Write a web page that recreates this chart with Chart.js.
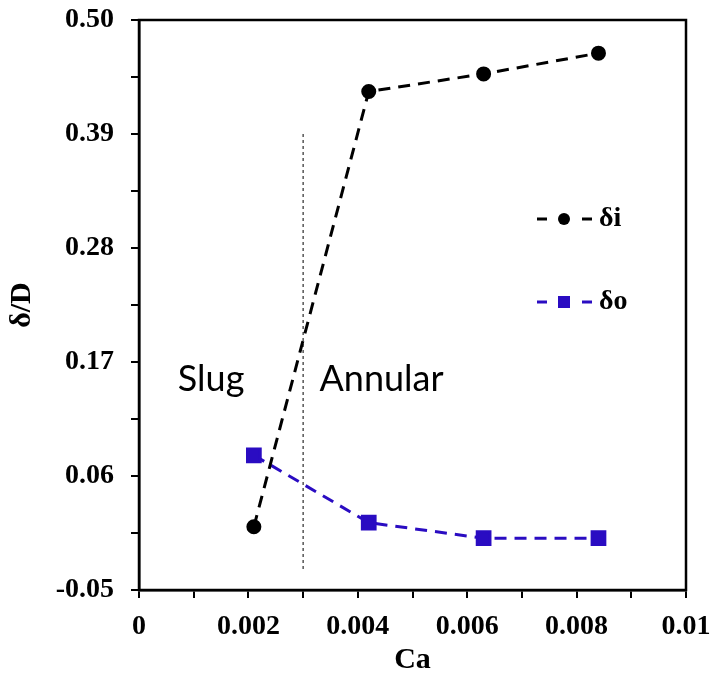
<!DOCTYPE html>
<html>
<head>
<meta charset="utf-8">
<script src="https://cdn.jsdelivr.net/npm/chart.js@4"></script>
<style>
  html, body { margin: 0; padding: 0; background: #fff; }
  #wrap { width: 713px; height: 682px; }
</style>
</head>
<body>
<div id="wrap"><canvas id="c" width="713" height="682"></canvas></div>
<script>
// Capillary number and film thickness ratios
const caValues = [0.0021, 0.0042, 0.0063, 0.0084];
const deltaInner = [0.011, 0.431, 0.448, 0.468];
const deltaOuter = [0.080, 0.015, 0.000, 0.000];

// Slug / annular regime boundary
const boundaryCa = [0.003, 0.003];
const boundaryY = [0.39, -0.03];

// Axis ticks (major ones carry labels)
const xTicks = [0, 0.001, 0.002, 0.003, 0.004, 0.005, 0.006, 0.007, 0.008, 0.009, 0.01];
const xLabels = ['0', '', '0.002', '', '0.004', '', '0.006', '', '0.008', '', '0.01'];
const yTicks = [-0.05, 0.005, 0.06, 0.115, 0.17, 0.225, 0.28, 0.335, 0.39, 0.445, 0.50];
const yLabels = ['-0.05', '', '0.06', '', '0.17', '', '0.28', '', '0.39', '', '0.50'];

const seriesNames = ['δi', 'δo'];
const regimeNames = ['Slug', 'Annular'];

const BLACK = '#000000';
const BLUE = '#2a0cc2';
const serif = '"Liberation Serif", "Times New Roman", serif';

const toPoints = (xs, ys) => xs.map((x, i) => ({ x: x, y: ys[i] }));

// Frame, regime labels and legend
const decor = {
  id: 'decor',
  afterDatasetsDraw(chart) {
    const { ctx, chartArea: a, scales } = chart;
    ctx.save();
    ctx.strokeStyle = BLACK;
    ctx.lineWidth = 2.5;
    ctx.strokeRect(a.left, a.top, a.right - a.left, a.bottom - a.top);

    // regime labels
    ctx.fillStyle = BLACK;
    ctx.font = '36px Lato, "Open Sans", sans-serif';
    ctx.textBaseline = 'middle';
    ctx.textAlign = 'left';
    ctx.fillText(regimeNames[0], scales.x.getPixelForValue(0.00071), scales.y.getPixelForValue(0.153));
    ctx.fillText(regimeNames[1], scales.x.getPixelForValue(0.00330), scales.y.getPixelForValue(0.153));

    // legend
    const entries = [
      { name: seriesNames[0], color: BLACK, style: 'circle', y: 219 },
      { name: seriesNames[1], color: BLUE, style: 'rect', y: 302 }
    ];
    entries.forEach(e => {
      ctx.strokeStyle = e.color;
      ctx.fillStyle = e.color;
      ctx.lineWidth = 3;
      ctx.beginPath();
      ctx.moveTo(537, e.y); ctx.lineTo(547, e.y);
      ctx.moveTo(582, e.y); ctx.lineTo(592, e.y);
      ctx.stroke();
      ctx.beginPath();
      if (e.style === 'circle') {
        ctx.arc(564, e.y, 6, 0, Math.PI * 2);
      } else {
        ctx.rect(558, e.y - 6, 12, 12);
      }
      ctx.fill();
      ctx.fillStyle = BLACK;
      ctx.font = 'bold 28px ' + serif;
      ctx.textAlign = 'left';
      ctx.textBaseline = 'middle';
      ctx.fillText(e.name, 599, e.y);
    });
    ctx.restore();
  }
};

new Chart(document.getElementById('c'), {
  type: 'line',
  data: {
    datasets: [
      {
        label: seriesNames[0],
        data: toPoints(caValues, deltaInner),
        borderColor: BLACK,
        backgroundColor: BLACK,
        borderWidth: 3,
        borderDash: [12, 8],
        pointStyle: 'circle',
        pointRadius: 6,
        pointHoverRadius: 6,
        tension: 0
      },
      {
        label: seriesNames[1],
        data: toPoints(caValues, deltaOuter),
        borderColor: BLUE,
        backgroundColor: BLUE,
        borderWidth: 3,
        borderDash: [12, 8],
        pointStyle: 'rect',
        pointRadius: 9,
        pointHoverRadius: 9,
        tension: 0
      },
      {
        label: 'boundary',
        data: toPoints(boundaryCa, boundaryY),
        borderColor: BLACK,
        borderWidth: 1,
        borderDash: [3, 3],
        pointRadius: 0,
        tension: 0
      }
    ]
  },
  options: {
    responsive: false,
    animation: false,
    layout: { padding: { top: 20, right: 27, left: 0, bottom: 0 } },
    plugins: { legend: { display: false }, tooltip: { enabled: false } },
    scales: {
      x: {
        type: 'linear',
        min: 0, max: 0.01,
        afterBuildTicks: s => { s.ticks = xTicks.map(v => ({ value: v })); },
        afterFit: s => { s.height = 92; s.paddingLeft = 0; s.paddingRight = 0; },
        ticks: {
          autoSkip: false,
          maxRotation: 0,
          padding: 12,
          color: BLACK,
          font: { family: serif, size: 28, weight: 'bold' },
          callback: (v, i) => xLabels[i]
        },
        grid: { drawOnChartArea: false, color: BLACK, lineWidth: 2, tickLength: 8 },
        border: { display: true, color: BLACK, width: 2.5 },
        title: {
          display: true, text: 'Ca', color: BLACK,
          font: { family: serif, size: 30, weight: 'bold' },
          padding: { top: 4, bottom: 4 }
        }
      },
      y: {
        type: 'linear',
        min: -0.05, max: 0.50,
        afterBuildTicks: s => { s.ticks = yTicks.map(v => ({ value: v })); },
        afterFit: s => { s.width = 139; s.paddingTop = 0; s.paddingBottom = 0; },
        ticks: {
          autoSkip: false,
          padding: 17,
          color: BLACK,
          font: { family: serif, size: 28, weight: 'bold' },
          callback: (v, i) => yLabels[i]
        },
        grid: { drawOnChartArea: false, color: BLACK, lineWidth: 2, tickLength: 8 },
        border: { display: true, color: BLACK, width: 2.5 },
        title: {
          display: true, text: 'δ/D', color: BLACK,
          font: { family: serif, size: 30, weight: 'bold' },
          padding: { top: 4, bottom: 4 }
        }
      }
    }
  },
  plugins: [decor]
});
</script>
</body>
</html>
